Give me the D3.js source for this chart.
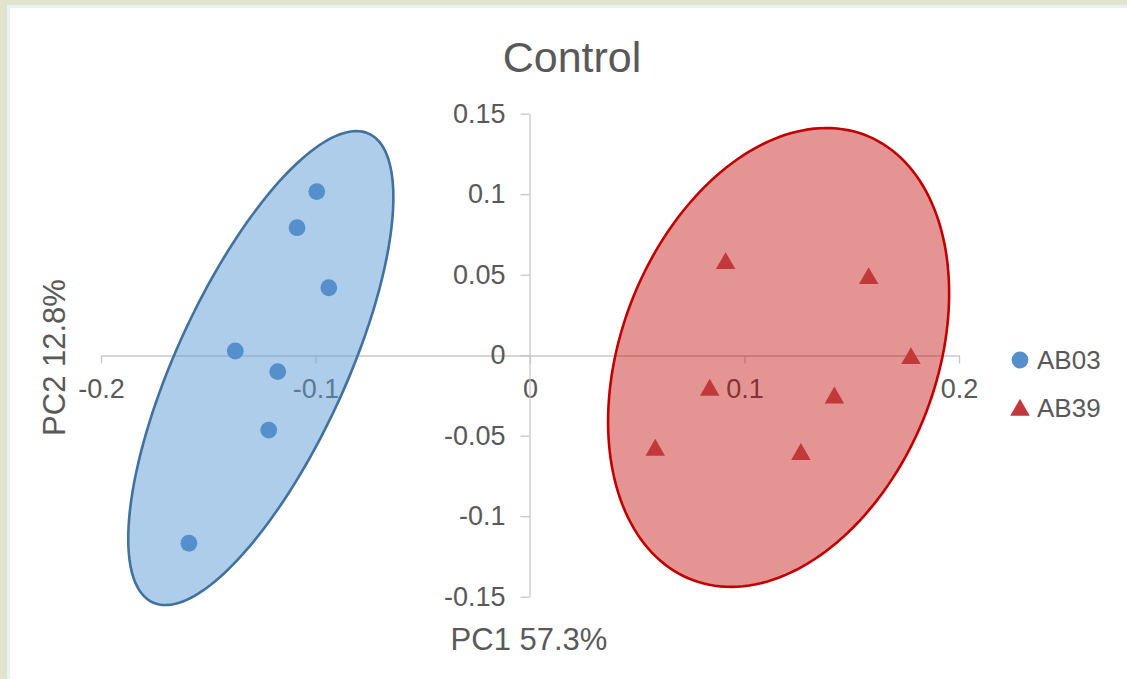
<!DOCTYPE html>
<html>
<head>
<meta charset="utf-8">
<script src="https://cdn.jsdelivr.net/npm/d3@7"></script>
<style>
  html, body { margin: 0; padding: 0; background: #e0e4cc; }
  svg { display: block; }
  text { font-family: "Liberation Sans", Arial, sans-serif; fill: #595959; }
</style>
</head>
<body>
<svg id="chart" width="1127" height="679"></svg>
<script>
// PCA scores, PC1 vs PC2
const ab03PC1 = [-0.0994, -0.1086, -0.0938, -0.1374, -0.1176, -0.1218, -0.1590];
const ab03PC2 = [0.1016, 0.0792, 0.0419, 0.0026, -0.0102, -0.0465, -0.1168];
const ab39PC1 = [0.0912, 0.1579, 0.1776, 0.0838, 0.1419, 0.0584, 0.1263];
const ab39PC2 = [0.0570, 0.0477, -0.0020, -0.0217, -0.0265, -0.0589, -0.0616];

// group ellipses: centre, spread along each PC, correlation
const ellipseCenterPC1 = [-0.1255, 0.1159];
const ellipseCenterPC2 = [-0.0080, -0.0014];
const ellipseSpreadPC1 = [0.0618, 0.0795];
const ellipseSpreadPC2 = [0.1472, 0.1425];
const ellipseRho = [0.72, 0.28];

const groups = ["AB03", "AB39"];
const xTicks = [-0.2, -0.1, 0, 0.1, 0.2];
const xTickLabels = ["-0.2", "-0.1", "0", "0.1", "0.2"];
const yTicks = [-0.15, -0.1, -0.05, 0, 0.05, 0.1, 0.15];
const yTickLabels = ["-0.15", "-0.1", "-0.05", "0", "0.05", "0.1", "0.15"];

const svg = d3.select("#chart");

// panel background
svg.append("rect").attr("x", 7).attr("y", 5).attr("width", 1127 - 7).attr("height", 679 - 5)
  .attr("fill", "#ffffff");
svg.append("rect").attr("x", 8.5).attr("y", 6.5).attr("width", 1127).attr("height", 679)
  .attr("fill", "none").attr("stroke", "#e9f0f8").attr("stroke-width", 3);

const x = d3.scaleLinear().domain([-0.2, 0.2]).range([101, 959]);
const y = d3.scaleLinear().domain([-0.15, 0.15]).range([596.7, 113.7]);

const axisColor = "#c8c8c8";

// x axis through y = 0
const gx = svg.append("g").attr("transform", `translate(0,${Math.round(y(0)) + 0.5})`)
  .call(d3.axisBottom(x).tickValues(xTicks)
    .tickFormat((d, i) => xTickLabels[i]).tickSize(8).tickPadding(15).tickSizeOuter(0));
// y axis through x = 0
const gy = svg.append("g").attr("transform", `translate(${Math.round(x(0)) - 0.5},0)`)
  .call(d3.axisLeft(y).tickValues(yTicks)
    .tickFormat((d, i) => yTickLabels[i]).tickSize(9).tickPadding(15).tickSizeOuter(0));

[gx, gy].forEach(g => {
  g.select(".domain").attr("stroke", axisColor).attr("stroke-width", 1.3);
  g.selectAll(".tick line").attr("stroke", axisColor).attr("stroke-width", 1.3);
  g.selectAll(".tick text").style("font-family", '"Liberation Sans", Arial, sans-serif')
    .style("font-size", "27px").attr("fill", "#595959");
  g.attr("font-size", null).attr("font-family", null);
});

// confidence ellipses
const fills = ["#5B9BD5", "#C00000"];
const fillOpacity = [0.5, 0.42];
const strokes = ["#41719C", "#C00000"];
const line = d3.line().x(d => x(d[0])).y(d => y(d[1])).curve(d3.curveLinearClosed);
groups.forEach((g, i) => {
  const pts = d3.range(0, 360, 2).map(deg => {
    const t = deg * Math.PI / 180;
    const r = ellipseRho[i];
    return [
      ellipseCenterPC1[i] + ellipseSpreadPC1[i] * Math.cos(t),
      ellipseCenterPC2[i] + ellipseSpreadPC2[i] * (r * Math.cos(t) + Math.sqrt(1 - r * r) * Math.sin(t))
    ];
  });
  svg.append("path").attr("d", line(pts))
    .attr("fill", fills[i]).attr("fill-opacity", fillOpacity[i])
    .attr("stroke", strokes[i]).attr("stroke-width", 2.6);
});

// points
const blue = "#5590CC";
const red = "#C3383A";
svg.append("g").selectAll("circle").data(d3.range(ab03PC1.length)).join("circle")
  .attr("cx", i => x(ab03PC1[i])).attr("cy", i => y(ab03PC2[i]))
  .attr("r", 8.4).attr("fill", blue);

const tri = d3.symbol().type(d3.symbolTriangle).size(165);
svg.append("g").selectAll("path").data(d3.range(ab39PC1.length)).join("path")
  .attr("d", tri)
  .attr("transform", i => `translate(${x(ab39PC1[i])},${y(ab39PC2[i])})`)
  .attr("fill", red);

// title and axis titles
svg.append("text").attr("x", 572).attr("y", 72).attr("text-anchor", "middle")
  .style("font-size", "43px").text("Control");
svg.append("text").attr("x", 529).attr("y", 650).attr("text-anchor", "middle")
  .style("font-size", "31px").text("PC1 57.3%");
svg.append("text").attr("transform", "translate(64.5,357.5) rotate(-90)")
  .attr("text-anchor", "middle").style("font-size", "31px").text("PC2 12.8%");

// legend
const legend = svg.append("g");
legend.append("circle").attr("cx", 1020).attr("cy", 360).attr("r", 8.4).attr("fill", blue);
legend.append("path").attr("d", tri).attr("transform", "translate(1020,410)").attr("fill", red);
legend.append("text").attr("x", 1037).attr("y", 369).style("font-size", "26px").text(groups[0]);
legend.append("text").attr("x", 1037).attr("y", 417).style("font-size", "26px").text(groups[1]);
</script>
</body>
</html>
